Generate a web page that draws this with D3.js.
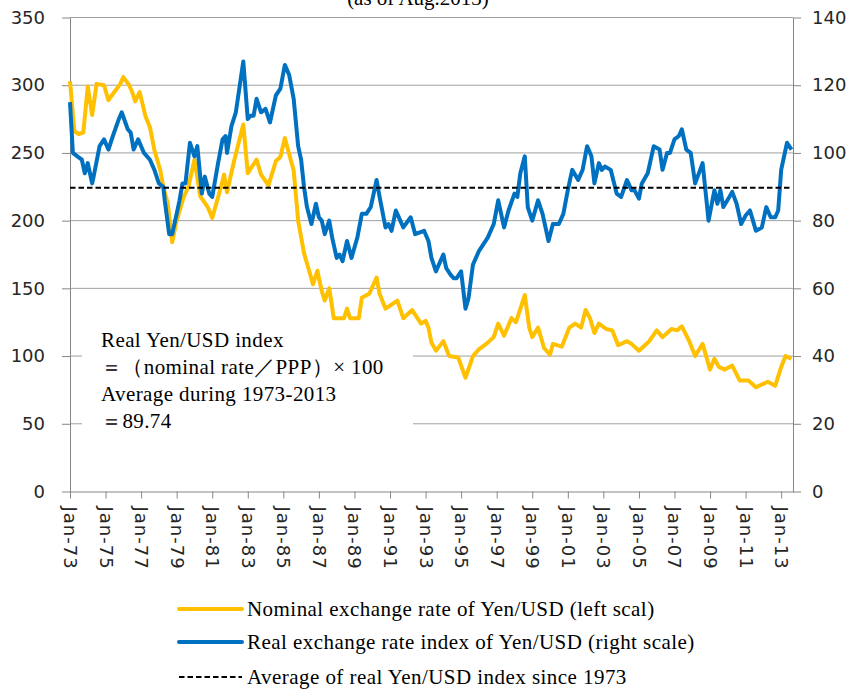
<!DOCTYPE html>
<html>
<head>
<meta charset="utf-8">
<script src="https://cdn.jsdelivr.net/npm/d3@7"></script>
<style>
  body { margin: 0; background: #fff; }
  svg { display: block; }
  .note text { font-feature-settings: "palt"; }
</style>
</head>
<body>
<div id="chart"></div>
<script>
// monthly readings, Yen per USD (left scale)
const nominalDates = ["1973-01","1973-04","1973-07","1973-10","1974-01","1974-04","1974-07","1974-12","1975-03","1975-07","1975-11","1976-01","1976-05","1976-07","1976-09","1976-12","1977-04","1977-07","1977-10","1978-02","1978-04","1978-07","1978-10","1979-01","1979-06","1979-09","1980-01","1980-05","1980-10","1981-01","1981-07","1981-09","1981-11","1982-04","1982-10","1983-01","1983-07","1983-10","1984-03","1984-08","1984-11","1985-02","1985-06","1985-08","1985-11","1986-03","1986-07","1986-09","1986-12","1987-03","1987-05","1987-08","1987-10","1987-11","1988-06","1988-08","1988-10","1989-04","1989-06","1989-11","1990-04","1990-06","1990-10","1991-06","1991-10","1992-04","1992-10","1993-01","1993-03","1993-05","1993-08","1994-01","1994-05","1994-11","1995-04","1995-09","1996-01","1996-06","1996-11","1997-02","1997-06","1997-11","1998-02","1998-08","1998-11","1999-01","1999-05","1999-09","2000-01","2000-03","2000-09","2001-02","2001-06","2001-10","2002-01","2002-04","2002-07","2002-10","2003-03","2003-07","2003-11","2004-05","2004-08","2005-01","2005-08","2006-01","2006-05","2006-11","2007-03","2007-06","2007-11","2008-03","2008-08","2009-01","2009-04","2009-07","2009-11","2010-04","2010-09","2011-03","2011-08","2012-04","2012-09","2013-01","2013-04","2013-08"];
const nominalValues = [303,266,264,265,299,278,301,300,289,295,301,306,300,295,288,295,277,269,252,237,225,213,184,200,218,225,245,218,210,202,225,234,221,245,271,235,245,234,226,244,247,261,245,237,200,176,161,153,163,148,141,150,136,128,128,135,128,128,143,146,158,146,135,141,128,134,124,126,121,110,104,111,100,99,84,100,105,109,114,124,115,128,125,145,121,114,121,106,101,109,107,121,124,121,134,128,117,124,120,119,108,111,109,104,111,119,114,120,119,122,111,100,109,90,98,92,90,93,82,82,77,81,78,92,100,98];

// real index (right scale)
const realDates = ["1973-01","1973-03","1973-06","1973-09","1973-11","1974-01","1974-04","1974-05","1974-09","1974-12","1975-03","1975-06","1975-10","1975-12","1976-04","1976-06","1976-08","1976-11","1977-03","1977-07","1977-10","1978-01","1978-04","1978-05","1978-08","1978-10","1979-01","1979-03","1979-05","1979-07","1979-10","1980-01","1980-03","1980-06","1980-08","1980-11","1981-01","1981-05","1981-08","1981-10","1981-11","1982-02","1982-05","1982-10","1983-01","1983-03","1983-05","1983-07","1983-10","1984-01","1984-04","1984-08","1984-11","1985-02","1985-05","1985-08","1985-11","1986-01","1986-03","1986-05","1986-08","1986-11","1987-01","1987-03","1987-05","1987-08","1987-10","1988-01","1988-03","1988-05","1988-08","1988-11","1989-03","1989-06","1989-09","1989-12","1990-04","1990-06","1990-10","1990-12","1991-02","1991-05","1991-10","1992-03","1992-06","1992-12","1993-03","1993-05","1993-08","1994-01","1994-03","1994-06","1994-08","1994-10","1995-01","1995-04","1995-06","1995-09","1996-01","1996-04","1996-07","1996-11","1997-02","1997-06","1997-09","1998-01","1998-03","1998-05","1998-08","1998-10","1999-01","1999-05","1999-08","1999-12","2000-03","2000-07","2000-10","2001-01","2001-04","2001-08","2001-11","2002-02","2002-05","2002-07","2002-10","2002-12","2003-02","2003-06","2003-10","2004-01","2004-05","2004-08","2004-10","2005-01","2005-03","2005-07","2005-11","2006-03","2006-05","2006-08","2006-10","2007-01","2007-04","2007-06","2007-09","2007-12","2008-03","2008-08","2008-12","2009-04","2009-06","2009-08","2009-10","2010-02","2010-04","2010-07","2010-10","2011-01","2011-04","2011-06","2011-08","2011-12","2012-03","2012-06","2012-09","2012-11","2013-01","2013-05","2013-08"];
const realValues = [115,100,99,98,94,97,91,93,102,104,101,105,110,112,107,106,101,104,100,98,95,91,90,86,76,76,82,86,91,91,103,99,102,88,93,88,87,97,104,105,100,108,112,127,110,111,111,116,112,113,109,117,119,126,123,116,102,98,90,84,79,85,81,80,76,80,75,69,70,68,74,69,75,82,82,84,92,87,78,79,77,83,78,81,76,77,74,69,65,70,66,64,63,63,65,54,57,67,71,73,75,79,86,78,83,88,87,94,99,84,80,86,82,74,79,79,82,89,95,92,95,102,99,91,97,95,96,95,88,87,92,89,89,86.5,91,94,102,101,95,100,100,104,105,107,101,100,91,97,80,89,85,89,84,87,88.5,85,79,81.5,83,80,77,78,84,81,81,83,95,103,101];

const realAverage = 89.74;
const tickLabels = ["1973-01","1975-01","1977-01","1979-01","1981-01","1983-01","1985-01","1987-01","1989-01","1991-01","1993-01","1995-01","1997-01","1999-01","2001-01","2003-01","2005-01","2007-01","2009-01","2011-01","2013-01"];
const leftTicks = [0, 50, 100, 150, 200, 250, 300, 350];
const rightTicks = [0, 20, 40, 60, 80, 100, 120, 140];
const legendLabels = [
  "Nominal exchange rate of Yen/USD (left scal)",
  "Real exchange rate index of Yen/USD (right scale)",
  "Average of real Yen/USD index since 1973"
];
const noteLines = [
  "Real Yen/USD index",
  "＝（nominal rate／PPP）× 100",
  "Average during 1973-2013",
  "＝89.74"
];
const subtitle = "(as of Aug.2013)";

const width = 857, height = 690;
const margin = {top: 17.5, right: 64, bottom: 198.5, left: 70};
const parse = d3.timeParse("%Y-%m");
const axisFont = "'DejaVu Sans', sans-serif";
const serifFont = "'Liberation Serif', 'Times New Roman', serif";

const nominal = nominalDates.map((d, i) => ({date: parse(d), value: nominalValues[i]}));
const real = realDates.map((d, i) => ({date: parse(d), value: realValues[i]}));

const x = d3.scaleTime()
    .domain([parse("1973-01"), parse("2013-09")])
    .range([margin.left, width - margin.right]);
const yLeft = d3.scaleLinear()
    .domain([0, 350])
    .range([height - margin.bottom, margin.top]);
const yRight = d3.scaleLinear()
    .domain([0, 140])
    .range([height - margin.bottom, margin.top]);

const svg = d3.select("#chart").append("svg")
    .attr("width", width)
    .attr("height", height);

// subtitle, cut by the top edge as in the source
svg.append("text")
    .attr("x", 418)
    .attr("y", 5)
    .attr("text-anchor", "middle")
    .attr("font-family", serifFont)
    .attr("font-size", 21)
    .attr("fill", "#000")
    .text(subtitle);

// gridlines
svg.append("g")
  .selectAll("line")
  .data(leftTicks.filter(d => d > 0))
  .join("line")
    .attr("x1", margin.left)
    .attr("x2", width - margin.right)
    .attr("y1", d => yLeft(d))
    .attr("y2", d => yLeft(d))
    .attr("stroke", "#a0a0a0")
    .attr("stroke-width", 1);

const styleAxis = g => {
  g.select(".domain").attr("stroke", "#868686");
  g.selectAll(".tick line").attr("stroke", "#868686");
  g.selectAll(".tick text")
      .attr("fill", "#262626")
      .attr("font-family", axisFont)
      .attr("font-size", 18);
};

svg.append("g")
    .attr("transform", `translate(${margin.left},0)`)
    .call(d3.axisLeft(yLeft).tickValues(leftTicks).tickSize(8).tickSizeOuter(0).tickPadding(17))
    .call(styleAxis);

svg.append("g")
    .attr("transform", `translate(${width - margin.right},0)`)
    .call(d3.axisRight(yRight).tickValues(rightTicks).tickSize(8).tickSizeOuter(0).tickPadding(11))
    .call(styleAxis);

svg.append("g")
    .attr("transform", `translate(0,${height - margin.bottom})`)
    .call(d3.axisBottom(x).tickValues(tickLabels.map(parse)).tickFormat(d3.timeFormat("Jan-%y")).tickSize(7).tickSizeOuter(0))
    .call(styleAxis)
    .call(g => g.selectAll(".tick text")
        .attr("transform", "rotate(90)")
        .attr("x", 15)
        .attr("y", 0)
        .attr("dy", "0.36em")
        .attr("letter-spacing", 1)
        .attr("text-anchor", "start"));

// lines
const lineLeft = d3.line().x(d => x(d.date)).y(d => yLeft(d.value));
const lineRight = d3.line().x(d => x(d.date)).y(d => yRight(d.value));

svg.append("path")
    .datum(nominal)
    .attr("fill", "none")
    .attr("stroke", "#ffc000")
    .attr("stroke-width", 4)
    .attr("stroke-linejoin", "round")
    .attr("d", lineLeft);

svg.append("path")
    .datum(real)
    .attr("fill", "none")
    .attr("stroke", "#0070c0")
    .attr("stroke-width", 4)
    .attr("stroke-linejoin", "round")
    .attr("d", lineRight);

svg.append("path")
    .datum([real[0].date, real[real.length - 1].date].map(date => ({date, value: realAverage})))
    .attr("fill", "none")
    .attr("stroke", "#000")
    .attr("stroke-width", 2)
    .attr("stroke-dasharray", "5.5,3")
    .attr("d", lineRight);

// note box
const note = svg.append("g").attr("class", "note");
note.append("rect")
    .attr("x", 82).attr("y", 322)
    .attr("width", 331).attr("height", 118)
    .attr("fill", "#fff");
note.selectAll("text")
  .data(noteLines)
  .join("text")
    .attr("x", 101)
    .attr("y", (d, i) => 347 + i * 27)
    .attr("font-family", serifFont)
    .attr("font-size", 21)
    .attr("letter-spacing", 0.4)
    .attr("fill", "#000")
    .text(d => d);

// legend
const legend = svg.append("g");
const legendStyles = [
  {stroke: "#ffc000", width: 4, dash: null},
  {stroke: "#0070c0", width: 4, dash: null},
  {stroke: "#000", width: 2, dash: "5.5,3"}
];
const legendY = [609, 642, 677];
legendLabels.forEach((label, i) => {
  const s = legendStyles[i];
  legend.append("line")
      .attr("x1", 179).attr("x2", 242)
      .attr("y1", legendY[i]).attr("y2", legendY[i])
      .attr("stroke", s.stroke)
      .attr("stroke-width", s.width)
      .attr("stroke-linecap", s.dash ? "butt" : "round")
      .attr("stroke-dasharray", s.dash);
  legend.append("text")
      .attr("x", 247)
      .attr("y", legendY[i] + 7)
      .attr("font-family", serifFont)
      .attr("font-size", 21)
      .attr("letter-spacing", 0.45)
      .attr("fill", "#000")
      .text(label);
});
</script>
</body>
</html>
